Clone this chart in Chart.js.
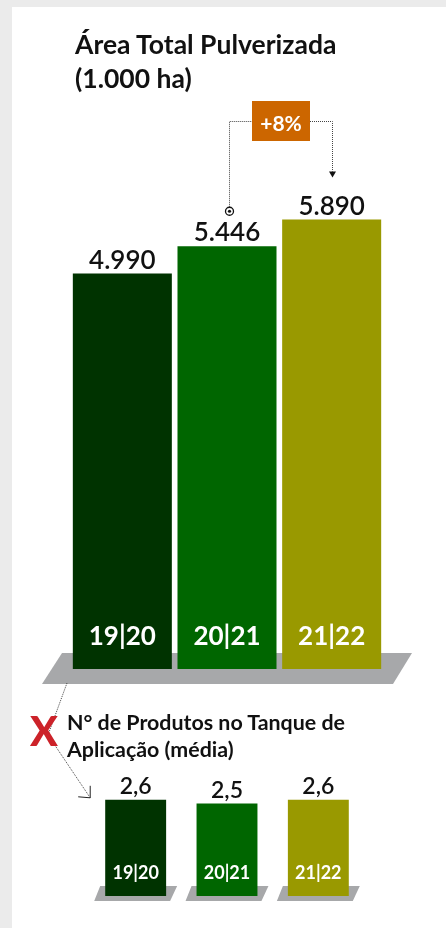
<!DOCTYPE html>
<html>
<head>
<meta charset="utf-8">
<script src="https://cdn.jsdelivr.net/npm/chart.js@4"></script>
<style>
  body { margin: 0; background: #ebebeb; width: 446px; height: 928px; overflow: hidden; position: relative; font-family: Lato, sans-serif; }
  #panel { position: absolute; left: 12px; top: 7px; right: 0; bottom: 0; background: #fff; }
  canvas { position: absolute; left: 0; }
  #areaChart { top: 0; }
  #tanqueChart { top: 670px; }
  .titulo { position: absolute; font-weight: 700; color: #111; white-space: nowrap; }
  #titulo1 { left: 75px; top: 27px; font-size: 26.5px; line-height: 34px; }
  #titulo2 { left: 67px; top: 709px; font-size: 21.4px; line-height: 27px; }
  #xis { position: absolute; left: 30px; top: 711px; font-size: 41px; line-height: 40px; font-weight: 900; color: #cc2229; }
</style>
</head>
<body>
<div id="panel"></div>
<canvas id="areaChart" width="446" height="700"></canvas>
<canvas id="tanqueChart" width="446" height="258"></canvas>
<div class="titulo" id="titulo1">Área Total Pulverizada<br>(1.000 ha)</div>
<div class="titulo" id="titulo2">N° de Produtos no Tanque de<br>Aplicação (média)</div>
<div id="xis">X</div>
<script>
const safras = ['19|20', '20|21', '21|22'];
const areaTotal = [4990, 5446, 5890];
const produtosTanque = [2.6, 2.5, 2.6];
const corBarras = ['#003300', '#006600', '#999900'];

function milhar(v) {
    return String(v).replace(/\B(?=(\d{3})+(?!\d))/g, '.');
}
function decimal(v) {
    return v.toFixed(1).replace('.', ',');
}

const variacao = '+' + Math.round((areaTotal[2] / areaTotal[1] - 1) * 100) + '%';

function dotted(ctx, pts) {
    ctx.save();
    ctx.strokeStyle = '#444';
    ctx.lineWidth = 1;
    ctx.setLineDash([1, 1]);
    ctx.beginPath();
    ctx.moveTo(pts[0][0], pts[0][1]);
    for (let i = 1; i < pts.length; i++) ctx.lineTo(pts[i][0], pts[i][1]);
    ctx.stroke();
    ctx.restore();
}

const areaPlugin = {
    id: 'areaExtras',
    beforeDatasetsDraw(chart) {
        const ctx = chart.ctx;
        const b = chart.chartArea.bottom;
        ctx.save();
        ctx.fillStyle = '#a7a8aa';
        ctx.beginPath();
        ctx.moveTo(62, b - 16);
        ctx.lineTo(412, b - 16);
        ctx.lineTo(393, b + 15);
        ctx.lineTo(42, b + 15);
        ctx.closePath();
        ctx.fill();
        ctx.restore();
    },
    afterDatasetsDraw(chart) {
        const ctx = chart.ctx;
        const bars = chart.getDatasetMeta(0).data;
        const b = chart.chartArea.bottom;
        ctx.save();
        ctx.textAlign = 'center';
        ctx.textBaseline = 'alphabetic';
        bars.forEach((bar, i) => {
            ctx.fillStyle = '#111';
            ctx.font = '600 26px Lato';
            ctx.fillText(milhar(areaTotal[i]), bar.x, bar.y - 5);
            ctx.fillStyle = '#fff';
            ctx.font = '700 26px Lato';
            ctx.fillText(safras[i], bar.x, b - 24);
        });

        // conector +8%
        const x1 = Math.round(bars[1].x) + 2.5;
        const y1 = bars[1].y - 35;
        const x2 = Math.round(bars[2].x) + 0.5;
        const y2 = bars[2].y - 42;
        const yl = 121.5;
        const bx = (x1 + x2) / 2;
        dotted(ctx, [[x1, y1 - 4], [x1, yl], [bx - 29, yl]]);
        dotted(ctx, [[bx + 29, yl], [x2, yl], [x2, y2 - 6]]);
        ctx.fillStyle = '#111';
        ctx.beginPath();
        ctx.moveTo(x2 - 3.5, y2 - 6);
        ctx.lineTo(x2 + 3.5, y2 - 6);
        ctx.lineTo(x2, y2);
        ctx.closePath();
        ctx.fill();
        ctx.strokeStyle = '#111';
        ctx.lineWidth = 1.3;
        ctx.beginPath();
        ctx.arc(x1, y1, 4, 0, Math.PI * 2);
        ctx.stroke();
        ctx.beginPath();
        ctx.arc(x1, y1, 1.6, 0, Math.PI * 2);
        ctx.fill();
        ctx.fillStyle = '#cc6600';
        ctx.fillRect(bx - 29, 101, 58, 40);
        ctx.fillStyle = '#fff';
        ctx.font = '700 21px Lato';
        ctx.fillText(variacao, bx, 131);
        ctx.restore();
    }
};

const tanquePlugin = {
    id: 'tanqueExtras',
    beforeDatasetsDraw(chart) {
        const ctx = chart.ctx;
        const bars = chart.getDatasetMeta(0).data;
        const b = chart.chartArea.bottom;
        ctx.save();
        ctx.fillStyle = '#a7a8aa';
        bars.forEach(bar => {
            const l = bar.x - bar.width / 2;
            const r = bar.x + bar.width / 2;
            ctx.beginPath();
            ctx.moveTo(l - 5, b - 10);
            ctx.lineTo(r + 11, b - 10);
            ctx.lineTo(r + 4, b + 5);
            ctx.lineTo(l - 11, b + 5);
            ctx.closePath();
            ctx.fill();
        });
        // seta pontilhada vinda do grafico de cima
        const tx = bars[0].x - bars[0].width / 2 - 15;
        const ty = bars[0].y - 2;
        dotted(ctx, [[67, 13], [48, 65], [tx, ty]]);
        ctx.strokeStyle = '#222';
        ctx.lineWidth = 1;
        ctx.beginPath();
        ctx.moveTo(tx - 12, ty - 1);
        ctx.lineTo(tx, ty);
        ctx.lineTo(tx, ty - 12);
        ctx.stroke();
        ctx.restore();
    },
    afterDatasetsDraw(chart) {
        const ctx = chart.ctx;
        const bars = chart.getDatasetMeta(0).data;
        const b = chart.chartArea.bottom;
        ctx.save();
        ctx.textAlign = 'center';
        ctx.textBaseline = 'alphabetic';
        bars.forEach((bar, i) => {
            ctx.fillStyle = '#111';
            ctx.font = '600 23px Lato';
            ctx.fillText(decimal(produtosTanque[i]), bar.x, bar.y - 6);
            ctx.fillStyle = '#fff';
            ctx.font = '700 18px Lato';
            ctx.fillText(safras[i], bar.x, b - 17);
        });
        ctx.restore();
    }
};

new Chart(document.getElementById('areaChart'), {
    type: 'bar',
    data: {
        labels: safras,
        datasets: [{
            data: areaTotal,
            backgroundColor: corBarras,
            categoryPercentage: 1,
            barPercentage: 0.946,
            borderWidth: 0,
            base: -1600
        }]
    },
    options: {
        responsive: false,
        animation: false,
        layout: { padding: { left: 70, right: 62, top: 150, bottom: 31 } },
        plugins: { legend: { display: false }, tooltip: { enabled: false } },
        scales: {
            x: { display: false },
            y: { display: false, min: -1600, max: 7050 }
        }
    },
    plugins: [areaPlugin]
});

new Chart(document.getElementById('tanqueChart'), {
    type: 'bar',
    data: {
        labels: safras,
        datasets: [{
            data: produtosTanque,
            backgroundColor: corBarras,
            categoryPercentage: 1,
            barPercentage: 0.667,
            borderWidth: 0
        }]
    },
    options: {
        responsive: false,
        animation: false,
        layout: { padding: { left: 90, right: 82, top: 115, bottom: 32 } },
        plugins: { legend: { display: false }, tooltip: { enabled: false } },
        scales: {
            x: { display: false },
            y: { display: false, min: 0, max: 3 }
        }
    },
    plugins: [tanquePlugin]
});
</script>
</body>
</html>
